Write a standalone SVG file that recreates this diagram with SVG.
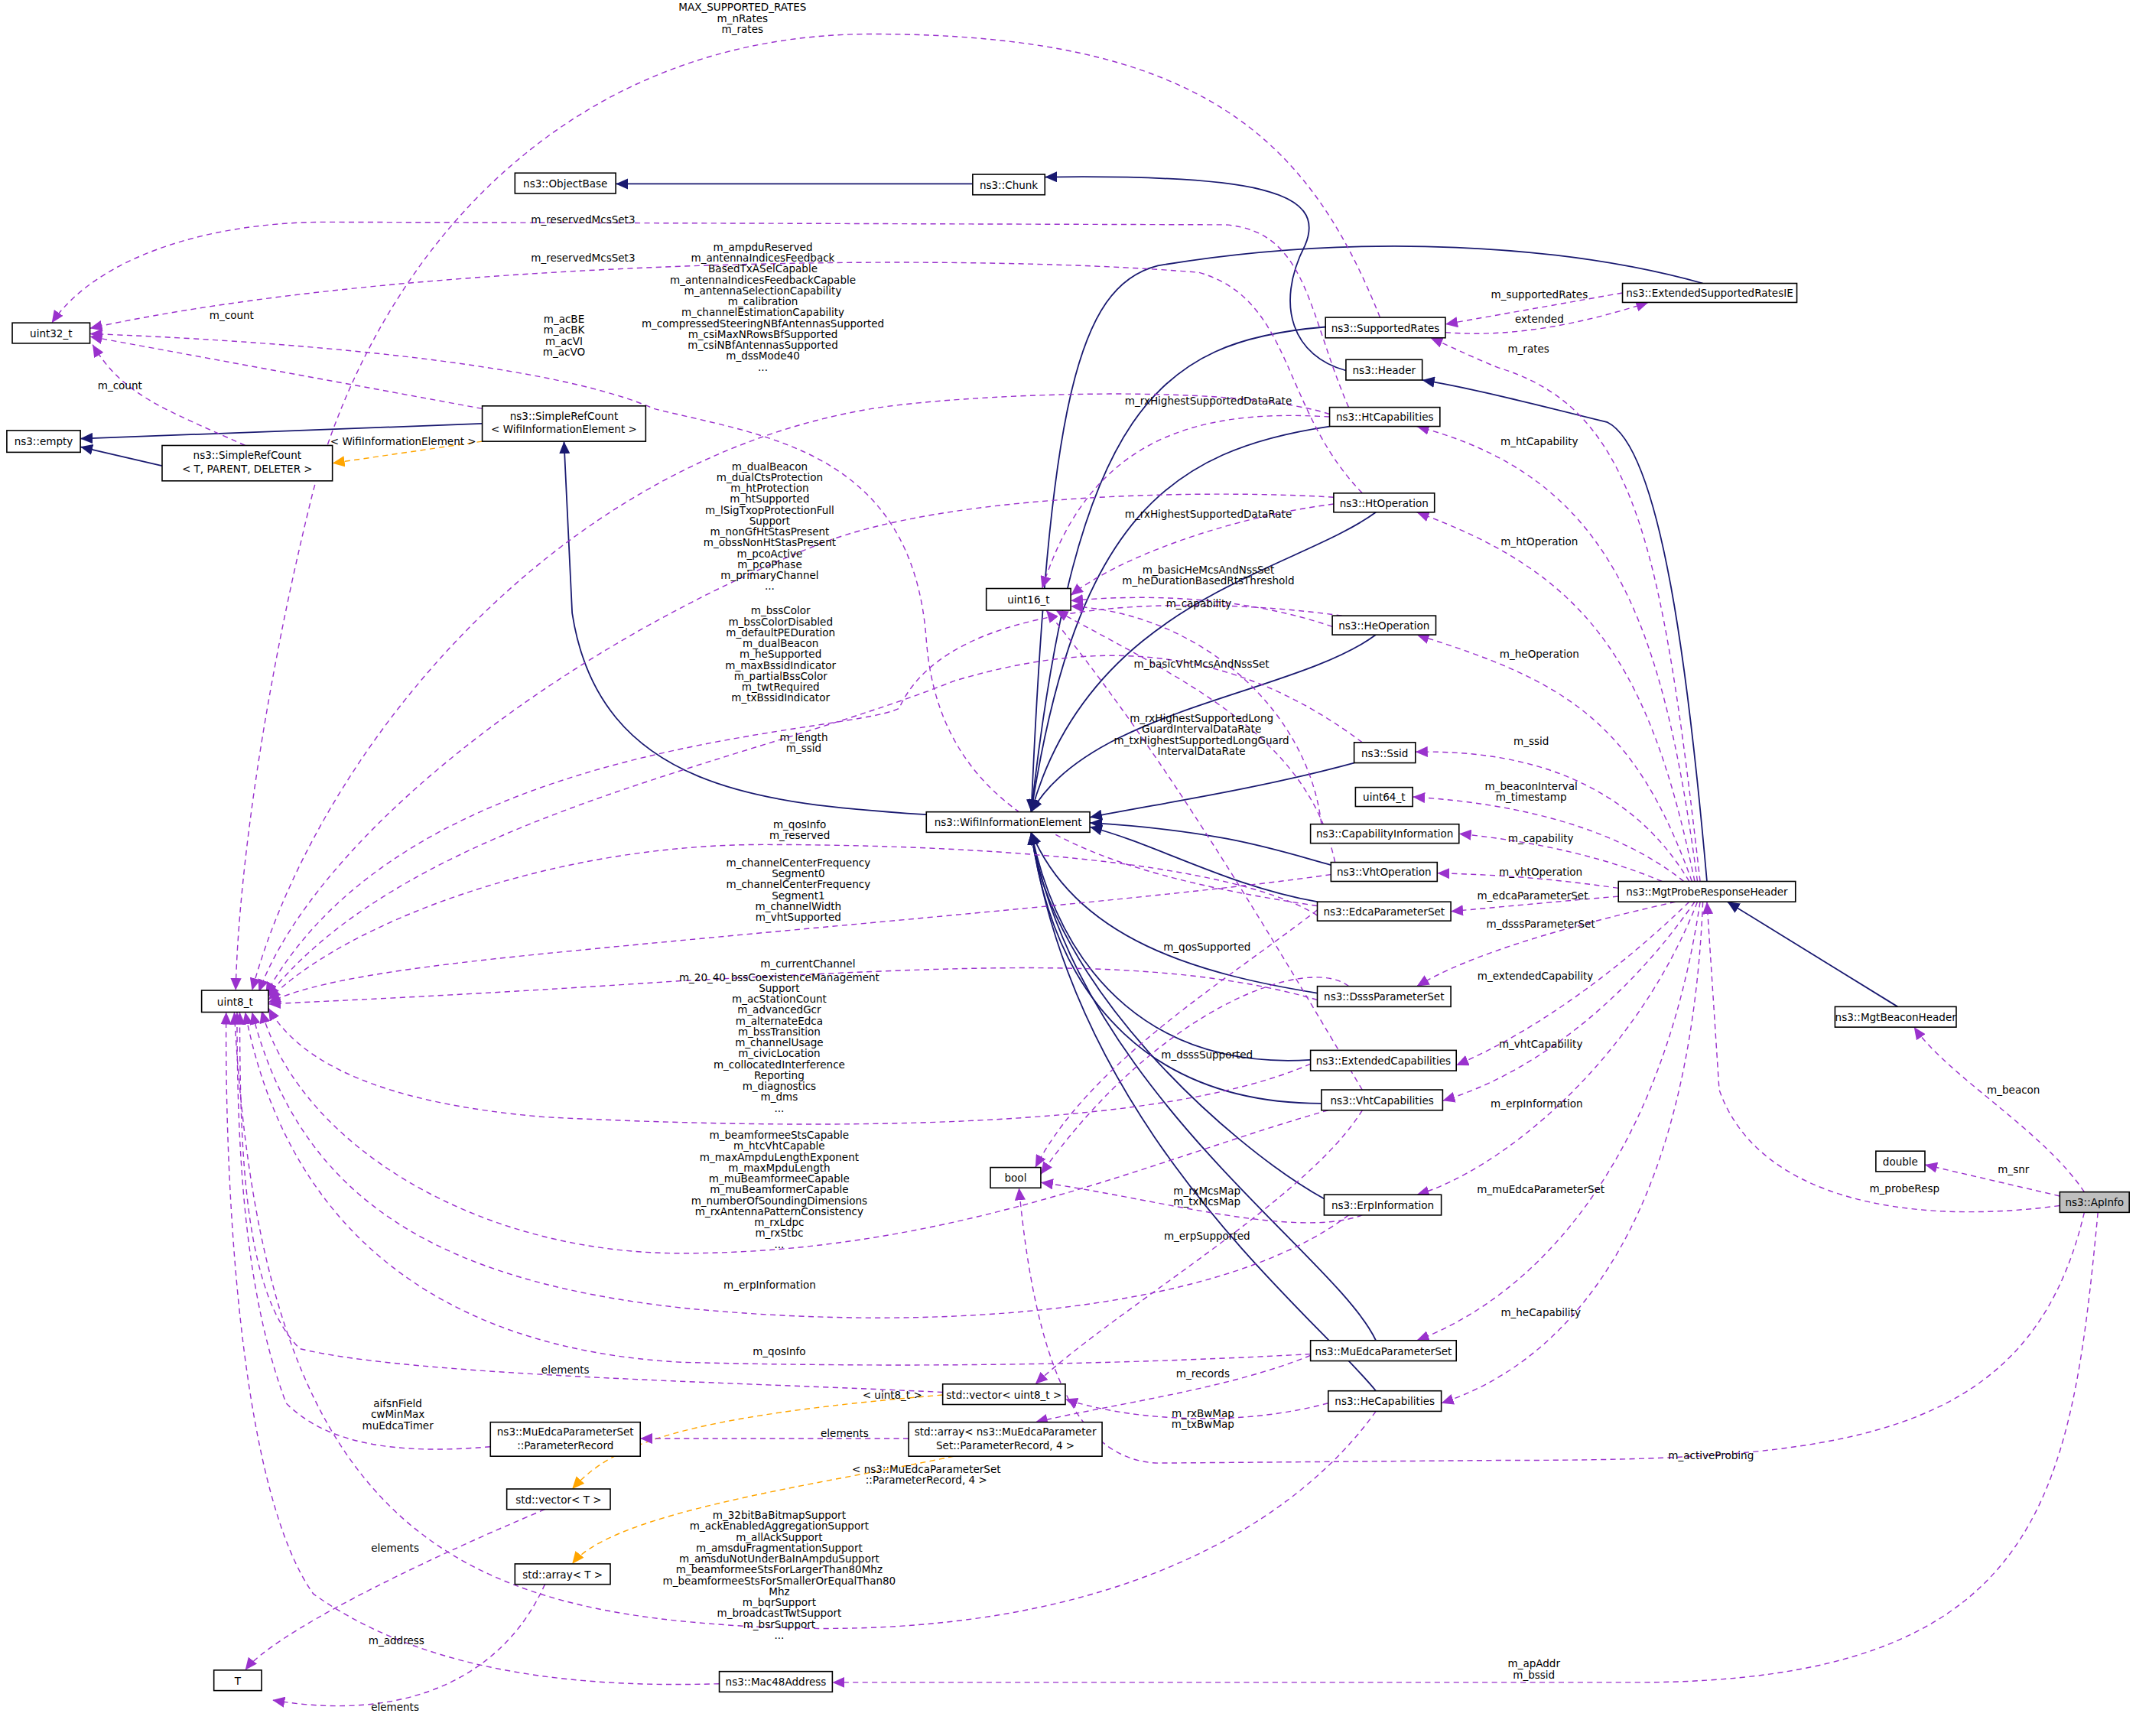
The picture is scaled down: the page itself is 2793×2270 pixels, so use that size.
<svg xmlns="http://www.w3.org/2000/svg" width="2793" height="2270" viewBox="0 0 2793 2270">
<style>
.n rect{fill:#fff;stroke:#000;stroke-width:0.9}
.n text,.l{font-family:"DejaVu Sans",sans-serif;font-size:7.6px;fill:#000;text-anchor:middle}
.i{fill:none;stroke:#191970;stroke-width:1}
.p{fill:none;stroke:#9a32cd;stroke-width:0.8;stroke-dasharray:4,3}
.o{fill:none;stroke:#ffa500;stroke-width:0.8;stroke-dasharray:4,3}
</style>
<defs>
<marker id="ai" markerUnits="userSpaceOnUse" markerWidth="10" markerHeight="8" refX="9" refY="4" orient="auto"><path d="M0,0L9,4L0,8z" fill="#191970"/></marker>
<marker id="ap" markerUnits="userSpaceOnUse" markerWidth="10" markerHeight="8" refX="9" refY="4" orient="auto"><path d="M0,0L9,4L0,8z" fill="#9a32cd"/></marker>
<marker id="ao" markerUnits="userSpaceOnUse" markerWidth="10" markerHeight="8" refX="9" refY="4" orient="auto"><path d="M0,0L9,4L0,8z" fill="#ffa500"/></marker>
</defs>
<rect width="2793" height="2270" fill="#fff"/>
<g transform="scale(1.7813)">
<g id="edges">
<path class="i" marker-end="url(#ai)" d="M714,135L452,135"/>
<path class="i" marker-end="url(#ai)" d="M988,272C950,262 935,225 958,180C975,140 920,128 767,130"/>
<path class="i" marker-end="url(#ai)" d="M354,311L59,322"/>
<path class="i" marker-end="url(#ai)" d="M119,342L59,328"/>
<path class="i" marker-end="url(#ai)" d="M680,598C560,590 440,580 420,450L414,324"/>
<path class="i" marker-end="url(#ai)" d="M1250,208C1150,180 1000,170 850,195C790,210 770,300 757,596"/>
<path class="i" marker-end="url(#ai)" d="M973,240C850,250 790,300 757,596"/>
<path class="i" marker-end="url(#ai)" d="M976,313C860,330 790,380 757,596"/>
<path class="i" marker-end="url(#ai)" d="M1010,376C950,420 800,440 757,596"/>
<path class="i" marker-end="url(#ai)" d="M1010,466C950,510 800,520 757,596"/>
<path class="i" marker-end="url(#ai)" d="M994,560C920,580 850,590 800,600"/>
<path class="i" marker-end="url(#ai)" d="M977,635C940,625 900,610 800,604"/>
<path class="i" marker-end="url(#ai)" d="M967,662C900,650 850,620 800,607"/>
<path class="i" marker-end="url(#ai)" d="M967,729C880,715 790,690 757,611"/>
<path class="i" marker-end="url(#ai)" d="M962,778C850,785 780,720 757,611"/>
<path class="i" marker-end="url(#ai)" d="M970,810C850,810 775,740 757,611"/>
<path class="i" marker-end="url(#ai)" d="M972,880C900,840 770,720 757,611"/>
<path class="i" marker-end="url(#ai)" d="M1010,984C980,920 790,800 757,611"/>
<path class="i" marker-end="url(#ai)" d="M1010,1021C960,960 790,830 757,611"/>
<path class="i" marker-end="url(#ai)" d="M1253,647C1240,500 1220,330 1180,310C1120,295 1080,285 1044,279"/>
<path class="i" marker-end="url(#ai)" d="M1393,739L1268,662"/>

<path class="p" marker-end="url(#ap)" d="M1530,875C1500,830 1430,790 1405,754"/>
<path class="p" marker-end="url(#ap)" d="M1512,878L1413,855"/>
<path class="p" marker-end="url(#ap)" d="M1512,885C1400,900 1290,880 1262,800L1253,662"/>
<path class="p" marker-end="url(#ap)" d="M1530,890C1490,1060 1350,1072 1100,1072L850,1074C790,1072 760,1000 748,872"/>
<path class="p" marker-end="url(#ap)" d="M1540,890C1520,1100 1500,1235 1200,1235L611,1235"/>
<path class="p" marker-end="url(#ap)" d="M1248,647C1220,400 1200,300 1100,270C1080,262 1060,252 1050,248"/>
<path class="p" marker-end="url(#ap)" d="M1246,647C1220,450 1180,350 1040,313"/>
<path class="p" marker-end="url(#ap)" d="M1244,647C1210,480 1160,420 1040,376"/>
<path class="p" marker-end="url(#ap)" d="M1242,647C1200,530 1150,500 1040,466"/>
<path class="p" marker-end="url(#ap)" d="M1240,647C1200,580 1130,550 1039,552"/>
<path class="p" marker-end="url(#ap)" d="M1236,647C1190,610 1120,590 1037,585"/>
<path class="p" marker-end="url(#ap)" d="M1220,647C1180,630 1130,618 1071,612"/>
<path class="p" marker-end="url(#ap)" d="M1188,652C1140,645 1100,642 1055,641"/>
<path class="p" marker-end="url(#ap)" d="M1188,658C1140,662 1100,666 1065,669"/>
<path class="p" marker-end="url(#ap)" d="M1230,662C1150,680 1080,700 1040,724"/>
<path class="p" marker-end="url(#ap)" d="M1240,662C1180,720 1120,760 1069,782"/>
<path class="p" marker-end="url(#ap)" d="M1244,662C1190,740 1120,790 1059,808"/>
<path class="p" marker-end="url(#ap)" d="M1246,662C1200,780 1100,860 1040,877"/>
<path class="p" marker-end="url(#ap)" d="M1248,662C1220,850 1130,950 1040,984"/>
<path class="p" marker-end="url(#ap)" d="M1250,662C1240,900 1150,1000 1058,1030"/>
<path class="p" marker-end="url(#ap)" d="M1191,215L1061,238"/>
<path class="p" marker-end="url(#ap)" d="M1061,244C1110,248 1160,238 1210,222"/>
<path class="p" marker-end="url(#ap)" d="M1013,233C960,100 880,25 640,25C420,25 280,180 230,360C195,500 175,640 173,727"/>
<path class="p" marker-end="url(#ap)" d="M990,299C960,230 960,170 900,165L240,163C150,163 70,190 38,237"/>
<path class="p" marker-end="url(#ap)" d="M1000,362C940,300 950,220 880,200C700,185 300,190 66,241"/>
<path class="p" marker-end="url(#ap)" d="M354,300L66,247"/>
<path class="p" marker-end="url(#ap)" d="M180,327C120,300 90,290 68,253"/>
<path class="o" marker-end="url(#ao)" d="M354,324L244,340"/>
<path class="p" marker-end="url(#ap)" d="M967,665C800,640 690,600 680,470C670,330 560,320 480,300C400,265 200,250 66,245"/>
<path class="p" marker-end="url(#ap)" d="M976,304C900,280 700,290 640,300C400,340 230,560 185,727"/>
<path class="p" marker-end="url(#ap)" d="M976,306C880,300 800,320 765,432"/>
<path class="p" marker-end="url(#ap)" d="M979,370C900,380 820,410 786,437"/>
<path class="p" marker-end="url(#ap)" d="M978,460C920,440 850,435 786,441"/>
<path class="p" marker-end="url(#ap)" d="M970,605C960,520 880,450 786,445"/>
<path class="p" marker-end="url(#ap)" d="M980,633C960,540 870,500 775,448"/>
<path class="p" marker-end="url(#ap)" d="M1000,800C940,700 860,560 768,448"/>
<path class="p" marker-end="url(#ap)" d="M979,365C900,360 700,360 600,400C400,480 230,620 190,728"/>
<path class="p" marker-end="url(#ap)" d="M985,452C900,440 700,430 660,520C620,540 300,540 195,730"/>
<path class="p" marker-end="url(#ap)" d="M1000,545C900,470 800,470 700,500C550,560 300,600 196,732"/>
<path class="p" marker-end="url(#ap)" d="M967,672C900,630 700,620 560,620C400,620 250,680 197,734"/>
<path class="p" marker-end="url(#ap)" d="M977,642C850,660 600,680 400,700C300,710 230,720 197,736"/>
<path class="p" marker-end="url(#ap)" d="M967,734C850,700 700,710 500,720C350,730 260,734 197,737"/>
<path class="p" marker-end="url(#ap)" d="M962,781C850,830 600,830 400,820C280,810 220,780 197,740"/>
<path class="p" marker-end="url(#ap)" d="M975,815C850,850 700,920 500,920C350,920 220,840 192,742"/>
<path class="p" marker-end="url(#ap)" d="M990,892C900,960 700,980 500,960C320,940 220,880 185,743"/>
<path class="p" marker-end="url(#ap)" d="M962,994C850,1000 700,1005 500,1000C320,990 210,900 180,743"/>
<path class="p" marker-end="url(#ap)" d="M692,1022C550,1015 300,1010 220,990C180,950 176,850 176,743"/>
<path class="p" marker-end="url(#ap)" d="M360,1062C290,1068 240,1060 210,1030C180,950 174,850 174,743"/>
<path class="p" marker-end="url(#ap)" d="M1010,1036C950,1120 800,1220 500,1190C300,1170 190,1080 172,743"/>
<path class="p" marker-end="url(#ap)" d="M528,1236C400,1240 300,1220 230,1170C180,1100 165,900 166,743"/>
<path class="p" marker-end="url(#ap)" d="M990,724C960,700 850,740 764,862"/>
<path class="p" marker-end="url(#ap)" d="M967,668C900,720 800,780 760,857"/>
<path class="p" marker-end="url(#ap)" d="M1000,892C950,910 850,880 764,868"/>
<path class="p" marker-end="url(#ap)" d="M1000,815C960,880 820,960 760,1016"/>
<path class="p" marker-end="url(#ap)" d="M962,995C900,1020 820,1030 760,1044"/>
<path class="p" marker-end="url(#ap)" d="M975,1030C900,1050 820,1040 782,1027"/>
<path class="o" marker-end="url(#ao)" d="M692,1024C500,1040 450,1060 420,1093"/>
<path class="o" marker-end="url(#ao)" d="M700,1069C600,1090 450,1110 420,1148"/>
<path class="p" marker-end="url(#ap)" d="M667,1056L470,1056"/>
<path class="p" marker-end="url(#ap)" d="M400,1108C300,1150 200,1200 180,1226"/>
<path class="p" marker-end="url(#ap)" d="M400,1163C370,1230 300,1265 200,1248"/>
</g>
<g id="labels">
<text class="l" x="1478" y="803">m_beacon</text>
<text class="l" x="1478" y="861">m_snr</text>
<text class="l" x="1398" y="875">m_probeResp</text>
<text class="l" x="1256" y="1071">m_activeProbing</text>
<text class="l" x="1126" y="1224">m_apAddr</text><text class="l" x="1126" y="1232">m_bssid</text>
<text class="l" x="1122" y="259">m_rates</text>
<text class="l" x="1130" y="327">m_htCapability</text>
<text class="l" x="1130" y="400">m_htOperation</text>
<text class="l" x="1130" y="483">m_heOperation</text>
<text class="l" x="1124" y="547">m_ssid</text>
<text class="l" x="1124" y="580">m_beaconInterval</text><text class="l" x="1124" y="588">m_timestamp</text>
<text class="l" x="1131" y="618">m_capability</text>
<text class="l" x="1131" y="643">m_vhtOperation</text>
<text class="l" x="1125" y="660">m_edcaParameterSet</text>
<text class="l" x="1131" y="681">m_dsssParameterSet</text>
<text class="l" x="1127" y="719">m_extendedCapability</text>
<text class="l" x="1131" y="769">m_vhtCapability</text>
<text class="l" x="1128" y="813">m_erpInformation</text>
<text class="l" x="1131" y="876">m_muEdcaParameterSet</text>
<text class="l" x="1131" y="966">m_heCapability</text>
<text class="l" x="1130" y="219">m_supportedRates</text>
<text class="l" x="1130" y="237">extended</text>
<text class="l" x="545" y="8">MAX_SUPPORTED_RATES</text><text class="l" x="545" y="16">m_nRates</text><text class="l" x="545" y="24">m_rates</text>
<text class="l" x="428" y="164">m_reservedMcsSet3</text>
<text class="l" x="428" y="192">m_reservedMcsSet3</text>
<text class="l" x="170" y="234">m_count</text>
<text class="l" x="88" y="286">m_count</text>
<text class="l" x="296" y="327">&lt; WifiInformationElement &gt;</text>
<text class="l" x="414" y="237">m_acBE</text><text class="l" x="414" y="245">m_acBK</text><text class="l" x="414" y="253">m_acVI</text><text class="l" x="414" y="261">m_acVO</text>
<text class="l" x="560" y="184">m_ampduReserved</text><text class="l" x="560" y="192">m_antennaIndicesFeedback</text><text class="l" x="560" y="200">BasedTxASelCapable</text><text class="l" x="560" y="208">m_antennaIndicesFeedbackCapable</text><text class="l" x="560" y="216">m_antennaSelectionCapability</text><text class="l" x="560" y="224">m_calibration</text><text class="l" x="560" y="232">m_channelEstimationCapability</text><text class="l" x="560" y="240">m_compressedSteeringNBfAntennasSupported</text><text class="l" x="560" y="248">m_csiMaxNRowsBfSupported</text><text class="l" x="560" y="256">m_csiNBfAntennasSupported</text><text class="l" x="560" y="264">m_dssMode40</text><text class="l" x="560" y="272">...</text>
<text class="l" x="887" y="297">m_rxHighestSupportedDataRate</text>
<text class="l" x="887" y="380">m_rxHighestSupportedDataRate</text>
<text class="l" x="887" y="421">m_basicHeMcsAndNssSet</text><text class="l" x="887" y="429">m_heDurationBasedRtsThreshold</text>
<text class="l" x="880" y="446">m_capability</text>
<text class="l" x="882" y="490">m_basicVhtMcsAndNssSet</text>
<text class="l" x="882" y="530">m_rxHighestSupportedLong</text><text class="l" x="882" y="538">GuardIntervalDataRate</text><text class="l" x="882" y="546">m_txHighestSupportedLongGuard</text><text class="l" x="882" y="554">IntervalDataRate</text>
<text class="l" x="565" y="345">m_dualBeacon</text><text class="l" x="565" y="353">m_dualCtsProtection</text><text class="l" x="565" y="361">m_htProtection</text><text class="l" x="565" y="369">m_htSupported</text><text class="l" x="565" y="377">m_lSigTxopProtectionFull</text><text class="l" x="565" y="385">Support</text><text class="l" x="565" y="393">m_nonGfHtStasPresent</text><text class="l" x="565" y="401">m_obssNonHtStasPresent</text><text class="l" x="565" y="409">m_pcoActive</text><text class="l" x="565" y="417">m_pcoPhase</text><text class="l" x="565" y="425">m_primaryChannel</text><text class="l" x="565" y="433">...</text>
<text class="l" x="573" y="451">m_bssColor</text><text class="l" x="573" y="459">m_bssColorDisabled</text><text class="l" x="573" y="467">m_defaultPEDuration</text><text class="l" x="573" y="475">m_dualBeacon</text><text class="l" x="573" y="483">m_heSupported</text><text class="l" x="573" y="491">m_maxBssidIndicator</text><text class="l" x="573" y="499">m_partialBssColor</text><text class="l" x="573" y="507">m_twtRequired</text><text class="l" x="573" y="515">m_txBssidIndicator</text>
<text class="l" x="590" y="544">m_length</text><text class="l" x="590" y="552">m_ssid</text>
<text class="l" x="587" y="608">m_qosInfo</text><text class="l" x="587" y="616">m_reserved</text>
<text class="l" x="586" y="636">m_channelCenterFrequency</text><text class="l" x="586" y="644">Segment0</text><text class="l" x="586" y="652">m_channelCenterFrequency</text><text class="l" x="586" y="660">Segment1</text><text class="l" x="586" y="668">m_channelWidth</text><text class="l" x="586" y="676">m_vhtSupported</text>
<text class="l" x="593" y="710">m_currentChannel</text>
<text class="l" x="572" y="720">m_20_40_bssCoexistenceManagement</text><text class="l" x="572" y="728">Support</text><text class="l" x="572" y="736">m_acStationCount</text><text class="l" x="572" y="744">m_advancedGcr</text><text class="l" x="572" y="752">m_alternateEdca</text><text class="l" x="572" y="760">m_bssTransition</text><text class="l" x="572" y="768">m_channelUsage</text><text class="l" x="572" y="776">m_civicLocation</text><text class="l" x="572" y="784">m_collocatedInterference</text><text class="l" x="572" y="792">Reporting</text><text class="l" x="572" y="800">m_diagnostics</text><text class="l" x="572" y="808">m_dms</text><text class="l" x="572" y="816">...</text>
<text class="l" x="572" y="836">m_beamformeeStsCapable</text><text class="l" x="572" y="844">m_htcVhtCapable</text><text class="l" x="572" y="852">m_maxAmpduLengthExponent</text><text class="l" x="572" y="860">m_maxMpduLength</text><text class="l" x="572" y="868">m_muBeamformeeCapable</text><text class="l" x="572" y="876">m_muBeamformerCapable</text><text class="l" x="572" y="884">m_numberOfSoundingDimensions</text><text class="l" x="572" y="892">m_rxAntennaPatternConsistency</text><text class="l" x="572" y="900">m_rxLdpc</text><text class="l" x="572" y="908">m_rxStbc</text><text class="l" x="572" y="916">...</text>
<text class="l" x="565" y="946">m_erpInformation</text>
<text class="l" x="572" y="995">m_qosInfo</text>
<text class="l" x="415" y="1008">elements</text>
<text class="l" x="292" y="1033">aifsnField</text><text class="l" x="292" y="1041">cwMinMax</text><text class="l" x="292" y="1049">muEdcaTimer</text>
<text class="l" x="572" y="1115">m_32bitBaBitmapSupport</text><text class="l" x="572" y="1123">m_ackEnabledAggregationSupport</text><text class="l" x="572" y="1131">m_allAckSupport</text><text class="l" x="572" y="1139">m_amsduFragmentationSupport</text><text class="l" x="572" y="1147">m_amsduNotUnderBaInAmpduSupport</text><text class="l" x="572" y="1155">m_beamformeeStsForLargerThan80Mhz</text><text class="l" x="572" y="1163">m_beamformeeStsForSmallerOrEqualThan80</text><text class="l" x="572" y="1171">Mhz</text><text class="l" x="572" y="1179">m_bqrSupport</text><text class="l" x="572" y="1187">m_broadcastTwtSupport</text><text class="l" x="572" y="1195">m_bsrSupport</text><text class="l" x="572" y="1203">...</text>
<text class="l" x="291" y="1207">m_address</text>
<text class="l" x="886" y="698">m_qosSupported</text>
<text class="l" x="886" y="777">m_dsssSupported</text>
<text class="l" x="886" y="910">m_erpSupported</text>
<text class="l" x="886" y="877">m_rxMcsMap</text><text class="l" x="886" y="885">m_txMcsMap</text>
<text class="l" x="883" y="1011">m_records</text>
<text class="l" x="883" y="1040">m_rxBwMap</text><text class="l" x="883" y="1048">m_txBwMap</text>
<text class="l" x="655" y="1027">&lt; uint8_t &gt;</text>
<text class="l" x="620" y="1055">elements</text>
<text class="l" x="680" y="1081">&lt; ns3::MuEdcaParameterSet</text><text class="l" x="680" y="1089">::ParameterRecord, 4 &gt;</text>
<text class="l" x="290" y="1139">elements</text>
<text class="l" x="290" y="1256">elements</text>
</g>
<g id="n_objectbase" class="n"><rect x="378" y="127" width="74" height="15"/><text x="415" y="137.5">ns3::ObjectBase</text></g>
<g id="n_chunk" class="n"><rect x="714" y="128" width="53" height="15"/><text x="740.5" y="138.5">ns3::Chunk</text></g>
<g id="n_uint32" class="n"><rect x="9" y="237" width="57" height="15"/><text x="37.5" y="247.5">uint32_t</text></g>
<g id="n_empty" class="n"><rect x="5" y="316" width="54" height="16"/><text x="32" y="327">ns3::empty</text></g>
<g id="n_srcwie" class="n"><rect x="354" y="298" width="120" height="26"/><text x="414" y="308">ns3::SimpleRefCount</text><text x="414" y="318">&lt; WifiInformationElement &gt;</text></g>
<g id="n_srct" class="n"><rect x="119" y="327" width="125" height="26"/><text x="181.5" y="337">ns3::SimpleRefCount</text><text x="181.5" y="347">&lt; T, PARENT, DELETER &gt;</text></g>
<g id="n_suprates" class="n"><rect x="973" y="233" width="88" height="15"/><text x="1017" y="243.5">ns3::SupportedRates</text></g>
<g id="n_extsup" class="n"><rect x="1191" y="208" width="128" height="14"/><text x="1255" y="218">ns3::ExtendedSupportedRatesIE</text></g>
<g id="n_header" class="n"><rect x="988" y="264" width="56" height="15"/><text x="1016" y="274.5">ns3::Header</text></g>
<g id="n_htcap" class="n"><rect x="976" y="299" width="81" height="14"/><text x="1016.5" y="309">ns3::HtCapabilities</text></g>
<g id="n_htop" class="n"><rect x="979" y="362" width="74" height="14"/><text x="1016" y="372">ns3::HtOperation</text></g>
<g id="n_uint16" class="n"><rect x="724" y="432" width="62" height="16"/><text x="755" y="443">uint16_t</text></g>
<g id="n_heop" class="n"><rect x="978" y="452" width="76" height="14"/><text x="1016" y="462">ns3::HeOperation</text></g>
<g id="n_ssid" class="n"><rect x="994" y="545" width="45" height="15"/><text x="1016.5" y="555.5">ns3::Ssid</text></g>
<g id="n_uint64" class="n"><rect x="995" y="578" width="42" height="14"/><text x="1016" y="588">uint64_t</text></g>
<g id="n_capinfo" class="n"><rect x="962" y="605" width="109" height="14"/><text x="1016.5" y="615">ns3::CapabilityInformation</text></g>
<g id="n_vhtop" class="n"><rect x="977" y="633" width="78" height="14"/><text x="1016" y="643">ns3::VhtOperation</text></g>
<g id="n_edca" class="n"><rect x="967" y="662" width="98" height="14"/><text x="1016" y="672">ns3::EdcaParameterSet</text></g>
<g id="n_wie" class="n"><rect x="680" y="596" width="120" height="15"/><text x="740" y="606.5">ns3::WifiInformationElement</text></g>
<g id="n_probe" class="n"><rect x="1188" y="647" width="130" height="15"/><text x="1253" y="657.5">ns3::MgtProbeResponseHeader</text></g>
<g id="n_dsss" class="n"><rect x="967" y="724" width="98" height="15"/><text x="1016" y="734.5">ns3::DsssParameterSet</text></g>
<g id="n_extcap" class="n"><rect x="962" y="771" width="107" height="15"/><text x="1015.5" y="781.5">ns3::ExtendedCapabilities</text></g>
<g id="n_vhtcap" class="n"><rect x="970" y="800" width="89" height="15"/><text x="1014.5" y="810.5">ns3::VhtCapabilities</text></g>
<g id="n_beacon" class="n"><rect x="1347" y="739" width="89" height="15"/><text x="1391.5" y="749.5">ns3::MgtBeaconHeader</text></g>
<g id="n_uint8" class="n"><rect x="148" y="727" width="49" height="16"/><text x="172.5" y="738">uint8_t</text></g>
<g id="n_double" class="n"><rect x="1377" y="845" width="36" height="15"/><text x="1395" y="855.5">double</text></g>
<g id="n_apinfo" class="n"><rect x="1512" y="875" width="51" height="15" style="fill:#bfbfbf"/><text x="1537.5" y="885.5">ns3::ApInfo</text></g>
<g id="n_bool" class="n"><rect x="727" y="857" width="37" height="15"/><text x="745.5" y="867.5">bool</text></g>
<g id="n_erp" class="n"><rect x="972" y="877" width="86" height="15"/><text x="1015" y="887.5">ns3::ErpInformation</text></g>
<g id="n_muedca" class="n"><rect x="962" y="984" width="107" height="15"/><text x="1015.5" y="994.5">ns3::MuEdcaParameterSet</text></g>
<g id="n_vecu8" class="n"><rect x="692" y="1016" width="90" height="15"/><text x="737" y="1026.5">std::vector&lt; uint8_t &gt;</text></g>
<g id="n_hecap" class="n"><rect x="975" y="1021" width="83" height="15"/><text x="1016.5" y="1031.5">ns3::HeCapabilities</text></g>
<g id="n_arrpr" class="n"><rect x="667" y="1044" width="142" height="25"/><text x="738" y="1054">std::array&lt; ns3::MuEdcaParameter</text><text x="738" y="1064">Set::ParameterRecord, 4 &gt;</text></g>
<g id="n_pr" class="n"><rect x="360" y="1044" width="110" height="25"/><text x="415" y="1054">ns3::MuEdcaParameterSet</text><text x="415" y="1064">::ParameterRecord</text></g>
<g id="n_vect" class="n"><rect x="372" y="1093" width="76" height="15"/><text x="410" y="1103.5">std::vector&lt; T &gt;</text></g>
<g id="n_arrt" class="n"><rect x="378" y="1148" width="70" height="15"/><text x="413" y="1158.5">std::array&lt; T &gt;</text></g>
<g id="n_t" class="n"><rect x="157" y="1226" width="35" height="15"/><text x="174.5" y="1236.5">T</text></g>
<g id="n_mac" class="n"><rect x="528" y="1227" width="83" height="15"/><text x="569.5" y="1237.5">ns3::Mac48Address</text></g>
</g>
</svg>
